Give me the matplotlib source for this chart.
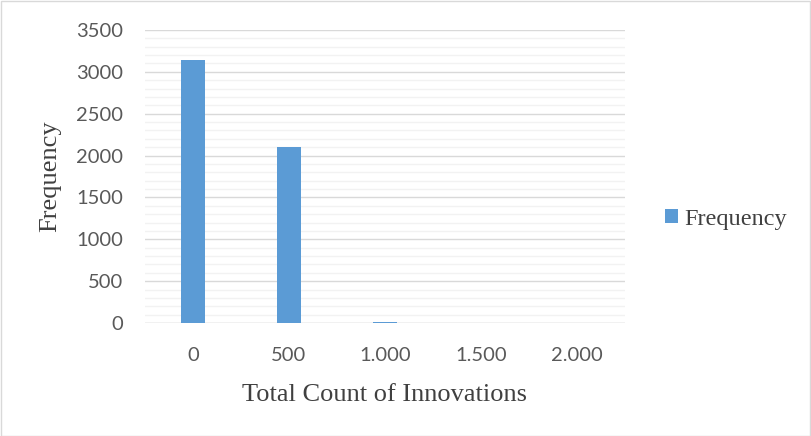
import matplotlib
matplotlib.use("Agg")
import matplotlib.pyplot as plt
from matplotlib.patches import Rectangle
import numpy as np

categories = ["0", "500", "1.000", "1.500", "2.000"]
frequency = [3145, 2100, 6, 0, 3]
yticks = [0, 500, 1000, 1500, 2000, 2500, 3000, 3500]

W, H = 811, 436
fig = plt.figure(figsize=(W / 100, H / 100), dpi=100)
fig.patches.append(Rectangle((0.5 / W, 0.5 / H), 1 - 1.5 / W, 1 - 1.5 / H,
                             transform=fig.transFigure, fill=False,
                             edgecolor="#d9d9d9", linewidth=1.0))

left, right, top, bottom = 145, 625, 30, 323
ax = fig.add_axes([left / W, 1 - bottom / H, (right - left) / W, (bottom - top) / H])

x = np.arange(len(categories))
ax.bar(x, frequency, width=0.25, color="#5b9bd5", label="Frequency", zorder=3)

ax.set_xlim(-0.5, len(categories) - 0.5)
ax.set_ylim(0, 3500)
ax.set_yticks(yticks)
ax.set_yticks(np.arange(0, 3501, 100), minor=True)
ax.set_xticks(x)
ax.set_xticklabels(categories)

ax.grid(axis="y", which="major", color="#d9d9d9", linewidth=1.0, zorder=0)
ax.grid(axis="y", which="minor", color="#f2f2f2", linewidth=1.0, zorder=0)
for s in ["top", "right", "left", "bottom"]:
    ax.spines[s].set_visible(False)
ax.axhline(0, color="#d9d9d9", linewidth=1.0, zorder=2)

ax.tick_params(axis="both", which="both", length=0)
ax.tick_params(axis="y", pad=15.5)
ax.tick_params(axis="x", pad=17.5)
for lbl in ax.get_xticklabels() + ax.get_yticklabels():
    lbl.set_fontfamily("Lato")
    lbl.set_fontsize(14.5)
    lbl.set_color("#595959")

ax.set_xlabel("Total Count of Innovations", fontfamily="Liberation Serif",
              fontsize=19, color="#404040", labelpad=14)
ax.set_ylabel("Frequency", fontfamily="Liberation Serif",
              fontsize=19, color="#404040", labelpad=11)

leg = fig.legend(loc="center left", bbox_to_anchor=(643 / W, 1 - 219 / H),
                 frameon=False, handlelength=0.55, handleheight=0.55,
                 handletextpad=0.25, prop={"family": "Liberation Serif", "size": 17.5})
for t in leg.get_texts():
    t.set_color("#404040")

fig.savefig("out.png", dpi=100)
